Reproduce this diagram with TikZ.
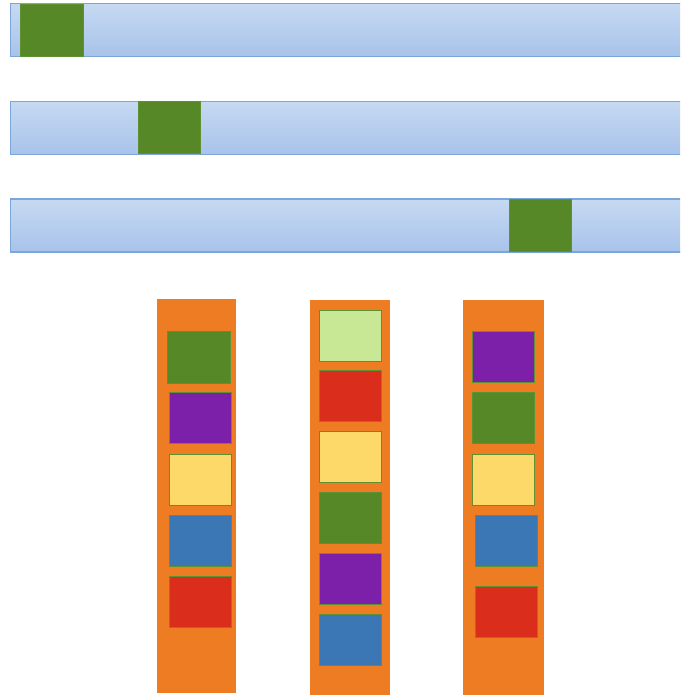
\documentclass[tikz,border=0pt]{standalone}
\usetikzlibrary{positioning}
\definecolor{barTop}{HTML}{C6D9F2}
\definecolor{barBot}{HTML}{A8C3EA}
\definecolor{barLine}{HTML}{7CA6D9}
\definecolor{cGreen}{HTML}{568827}
\definecolor{cGreenLine}{HTML}{5F9132}
\definecolor{cOrange}{HTML}{ED7C22}
\definecolor{cPurple}{HTML}{7C20AA}
\definecolor{cYellow}{HTML}{FDD96A}
\definecolor{cBlue}{HTML}{3C77B5}
\definecolor{cRed}{HTML}{DA2D1B}
\definecolor{cLight}{HTML}{C9E895}
\tikzset{
  bar/.style={rectangle, inner sep=0pt, outer sep=0pt, top color=barTop, bottom color=barBot, draw=barLine, line width=1.2pt, minimum width=679pt, minimum height=53pt},
  col/.style={rectangle, inner sep=0pt, outer sep=0pt, fill=cOrange, minimum height=396pt},
  sq/.style={rectangle, inner sep=0pt, outer sep=0pt, draw=cGreenLine, line width=0.9pt, minimum width=62pt, minimum height=51pt},
}
\begin{document}
\begin{tikzpicture}[x=1pt,y=-1pt]
\useasboundingbox (0,0) rectangle (680,695);
\clip (0,0) rectangle (680,695);
% bars
\node[bar] (bar1) at (350,30) {};
\node[bar] (bar2) at (350,127.7) {};
\node[bar] (bar3) at (350,225.5) {};
\node[sq, fill=cGreen, minimum width=63pt, minimum height=52pt] (g1) at (51.5,30.2) {};
\node[sq, fill=cGreen, minimum height=52pt] (g2) at (169.2,127.5) {};
\node[sq, fill=cGreen, minimum height=51.5pt] (g3) at (540.5,225.3) {};
% columns
\node[col, minimum width=79.3pt, minimum height=394pt] (c1) at (196.6,496.3) {};
\node[col, minimum width=80pt] (c2) at (350,497.8) {};
\node[col, minimum width=80.7pt] (c3) at (503.3,497.8) {};
% column 1
\node[sq, fill=cGreen, minimum width=62.7pt, minimum height=51.7pt] (a1) at (198.6,357.2) {};
\node[sq, fill=cPurple] (a2) at (200.8,418.3) {};
\node[sq, fill=cYellow] (a3) at (200.3,479.5) {};
\node[sq, fill=cBlue] (a4) at (200.1,540.7) {};
\node[sq, fill=cRed] (a5) at (200.1,601.8) {};
% column 2
\node[sq, fill=cLight] (b1) at (350,335.7) {};
\node[sq, fill=cRed] (b2) at (350,396.4) {};
\node[sq, fill=cYellow] (b3) at (350,457.2) {};
\node[sq, fill=cGreen] (b4) at (350.3,518) {};
\node[sq, fill=cPurple] (b5) at (350,578.9) {};
\node[sq, fill=cBlue] (b6) at (350,639.5) {};
% column 3
\node[sq, fill=cPurple] (d1) at (503.8,357) {};
\node[sq, fill=cGreen] (d2) at (503.3,418.3) {};
\node[sq, fill=cYellow] (d3) at (503.3,479.5) {};
\node[sq, fill=cBlue] (d4) at (506.5,540.7) {};
\node[sq, fill=cRed] (d5) at (506.2,612.3) {};
\end{tikzpicture}
\end{document}
